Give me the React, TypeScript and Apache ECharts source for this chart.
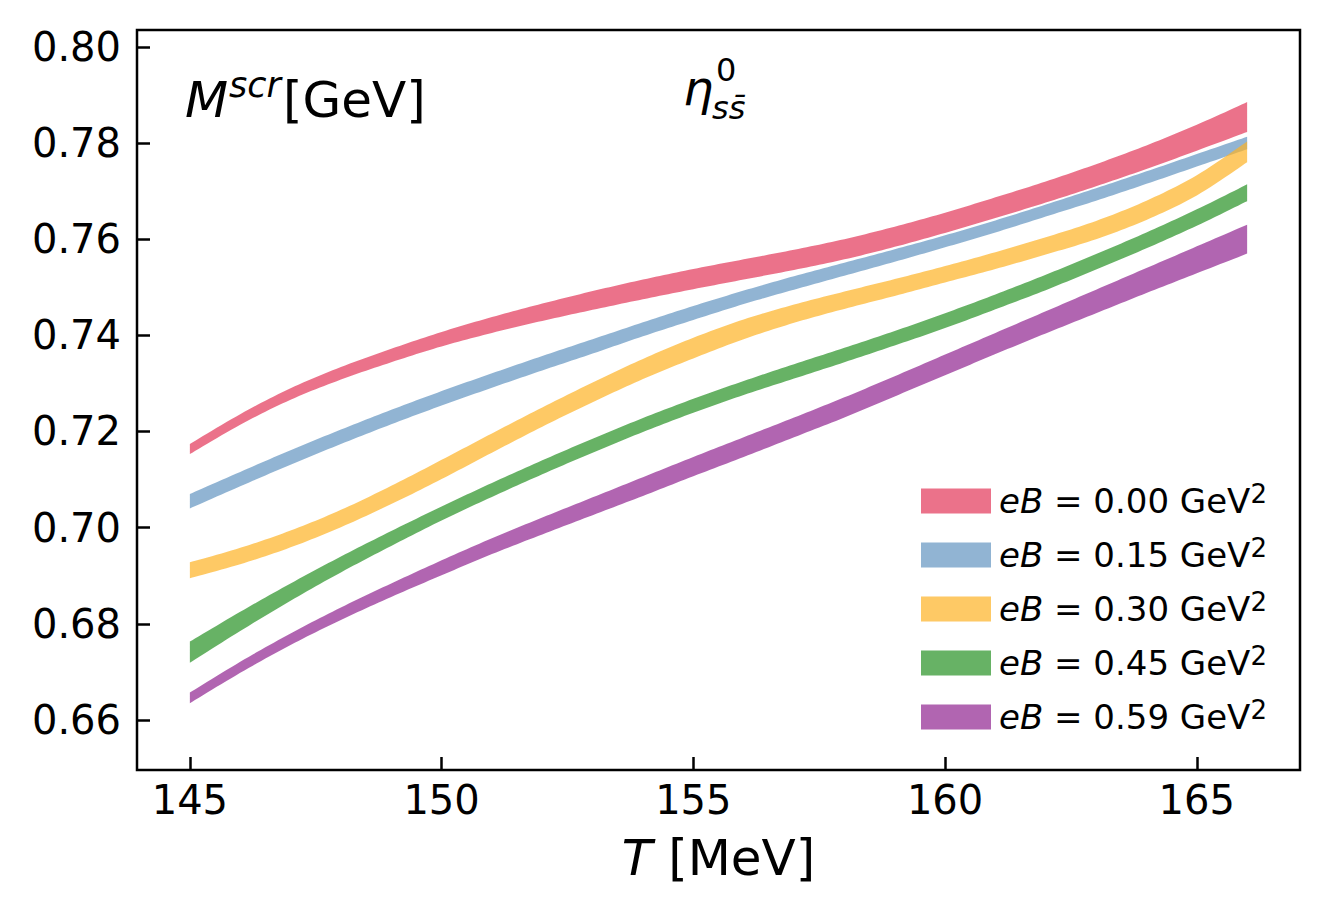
import React, { useEffect, useRef } from "react";
import * as echarts from "echarts";

// Temperature grid (MeV)
const T = [145, 146, 147, 148, 149, 150, 151, 152, 153, 154, 155, 156, 157, 158, 159, 160, 161, 162, 163, 164, 165, 166];

// eB = 0.00 GeV^2
const pinkLo = [0.7153, 0.7214, 0.7266, 0.7308, 0.7344, 0.7377, 0.7405, 0.7430, 0.7453, 0.7475, 0.7496, 0.7516, 0.7536, 0.7558, 0.7584, 0.7613, 0.7644, 0.7676, 0.7710, 0.7746, 0.7784, 0.7823];
const pinkHi = [0.7174, 0.7236, 0.7290, 0.7334, 0.7372, 0.7407, 0.7438, 0.7466, 0.7492, 0.7516, 0.7538, 0.7558, 0.7578, 0.7600, 0.7626, 0.7655, 0.7687, 0.7720, 0.7756, 0.7795, 0.7838, 0.7885];
// eB = 0.15 GeV^2
const blueLo = [0.7040, 0.7086, 0.7131, 0.7174, 0.7215, 0.7254, 0.7291, 0.7327, 0.7362, 0.7398, 0.7432, 0.7465, 0.7495, 0.7524, 0.7553, 0.7583, 0.7614, 0.7647, 0.7680, 0.7715, 0.7751, 0.7787];
const blueHi = [0.7070, 0.7116, 0.7161, 0.7204, 0.7245, 0.7284, 0.7321, 0.7357, 0.7392, 0.7427, 0.7461, 0.7493, 0.7523, 0.7551, 0.7579, 0.7608, 0.7639, 0.7672, 0.7706, 0.7741, 0.7777, 0.7813];
// eB = 0.30 GeV^2
const yellowLo = [0.6895, 0.6924, 0.6959, 0.7001, 0.7049, 0.7101, 0.7156, 0.7210, 0.7261, 0.7309, 0.7352, 0.7392, 0.7426, 0.7455, 0.7482, 0.7510, 0.7538, 0.7568, 0.7600, 0.7640, 0.7691, 0.7760];
const yellowHi = [0.6928, 0.6958, 0.6994, 0.7037, 0.7087, 0.7141, 0.7196, 0.7250, 0.7302, 0.7351, 0.7395, 0.7433, 0.7464, 0.7491, 0.7517, 0.7544, 0.7573, 0.7604, 0.7638, 0.7680, 0.7733, 0.7803];
// eB = 0.45 GeV^2
const greenLo = [0.6719, 0.6785, 0.6848, 0.6907, 0.6962, 0.7015, 0.7064, 0.7111, 0.7156, 0.7199, 0.7239, 0.7276, 0.7310, 0.7344, 0.7379, 0.7415, 0.7454, 0.7494, 0.7537, 0.7581, 0.7628, 0.7679];
const greenHi = [0.6763, 0.6825, 0.6884, 0.6940, 0.6993, 0.7044, 0.7093, 0.7140, 0.7185, 0.7228, 0.7268, 0.7305, 0.7340, 0.7374, 0.7409, 0.7446, 0.7485, 0.7526, 0.7569, 0.7614, 0.7662, 0.7714];
// eB = 0.59 GeV^2
const purpleLo = [0.6635, 0.6698, 0.6756, 0.6808, 0.6856, 0.6901, 0.6945, 0.6986, 0.7026, 0.7066, 0.7107, 0.7147, 0.7188, 0.7229, 0.7273, 0.7317, 0.7361, 0.7404, 0.7446, 0.7488, 0.7529, 0.7570];
const purpleHi = [0.6657, 0.6721, 0.6780, 0.6834, 0.6884, 0.6932, 0.6978, 0.7021, 0.7063, 0.7105, 0.7147, 0.7188, 0.7229, 0.7271, 0.7315, 0.7360, 0.7405, 0.7450, 0.7495, 0.7540, 0.7585, 0.7630];

const eBValues = ["0.00", "0.15", "0.30", "0.45", "0.59"];
const xTicks = [145, 150, 155, 160, 165];
const yTicks = [0.66, 0.68, 0.7, 0.72, 0.74, 0.76, 0.78, 0.8];

const bandColors = [
  "rgba(226,54,88,0.7)",
  "rgba(99,148,192,0.7)",
  "rgba(254,178,36,0.7)",
  "rgba(39,145,35,0.7)",
  "rgba(144,35,144,0.7)",
];

const FONT = "DejaVu Sans";

function spline(p: number[][], steps = 12): number[][] {
  const out: number[][] = [];
  for (let i = 0; i < p.length - 1; i++) {
    const p0 = p[i - 1] || p[i];
    const p1 = p[i];
    const p2 = p[i + 1];
    const p3 = p[i + 2] || p[i + 1];
    for (let s = 0; s < steps; s++) {
      const t = s / steps;
      const t2 = t * t;
      const t3 = t2 * t;
      const f = (k: number) =>
        0.5 *
        (2 * p1[k] +
          (-p0[k] + p2[k]) * t +
          (2 * p0[k] - 5 * p1[k] + 4 * p2[k] - p3[k]) * t2 +
          (-p0[k] + 3 * p1[k] - 3 * p2[k] + p3[k]) * t3);
      out.push([f(0), f(1)]);
    }
  }
  out.push(p[p.length - 1]);
  return out;
}

export default function App() {
  const ref = useRef<HTMLDivElement>(null);

  useEffect(() => {
    document.body.style.margin = "0";
    if (!ref.current) return;
    const chart = echarts.init(ref.current, null, { renderer: "svg" });

    const bands = [
      [pinkLo, pinkHi],
      [blueLo, blueHi],
      [yellowLo, yellowHi],
      [greenLo, greenHi],
      [purpleLo, purpleHi],
    ];
    const names = eBValues.map((v) => `eB = ${v} GeV²`);

    const series = bands.map(([lo, hi], bi) => ({
      type: "custom",
      name: names[bi],
      clip: false,
      silent: true,
      itemStyle: { color: bandColors[bi] },
      encode: { x: 0, y: [1, 2] },
      data: T.map((t, i) => [t, lo[i], hi[i]]),
      z: 2 + bi,
      renderItem: (params: any, api: any) => {
        if (params.dataIndexInside !== 0) return { type: "group", children: [] };
        const n = params.dataInsideLength;
        const top: number[][] = [];
        const bot: number[][] = [];
        for (let i = 0; i < n; i++) {
          const x = api.value(0, i);
          top.push(api.coord([x, api.value(2, i)]));
          bot.push(api.coord([x, api.value(1, i)]));
        }
        const pts = spline(top).concat(spline(bot).reverse());
        return {
          type: "polygon",
          shape: { points: pts },
          style: { fill: bandColors[bi], stroke: null },
        };
      },
    }));

    const option: any = {
      animation: false,
      backgroundColor: "#fff",
      textStyle: { fontFamily: FONT },
      grid: {
        left: 137,
        top: 30,
        width: 1163,
        height: 740,
        show: true,
        borderColor: "#000",
        borderWidth: 2.5,
        backgroundColor: "transparent",
        containLabel: false,
      },
      xAxis: {
        type: "value",
        min: 143.95,
        max: 167.05,
        splitLine: { show: false },
        axisLine: { show: false },
        axisTick: {
          show: true,
          inside: true,
          length: 13,
          lineStyle: { color: "#000", width: 2.5 },
          customValues: xTicks,
        },
        axisLabel: {
          show: true,
          customValues: xTicks,
          fontSize: 40,
          color: "#000",
          fontFamily: FONT,
          margin: 10,
          formatter: (v: number) => String(v),
        },
        name: "{i|T} [MeV]",
        nameLocation: "middle",
        nameGap: 63,
        nameTextStyle: {
          fontSize: 50,
          color: "#000",
          fontFamily: FONT,
          rich: { i: { fontStyle: "italic", fontSize: 50, fontFamily: FONT, color: "#000" } },
        },
      },
      yAxis: {
        type: "value",
        min: 0.6496,
        max: 0.8035,
        splitLine: { show: false },
        axisLine: { show: false },
        axisTick: {
          show: true,
          inside: true,
          length: 13,
          lineStyle: { color: "#000", width: 2.5 },
          customValues: yTicks,
        },
        axisLabel: {
          show: true,
          customValues: yTicks,
          fontSize: 40,
          color: "#000",
          fontFamily: FONT,
          margin: 16,
          formatter: (v: number) => v.toFixed(2),
        },
      },
      legend: {
        data: names.map((nm, i) => ({ name: nm, icon: "rect", itemStyle: { color: bandColors[i] } })),
        orient: "vertical",
        left: 921,
        top: 481,
        padding: 0,
        itemWidth: 70,
        itemHeight: 25,
        itemGap: 14,
        selectedMode: false,
        formatter: (name: string) => `{i|eB}{n|${name.slice(2, name.length - 1)}}{sup|2}`,
        textStyle: {
          fontFamily: FONT,
          fontSize: 34,
          color: "#000",
          lineHeight: 40,
          padding: [0, 0, 0, 3],
          rich: {
            i: { fontStyle: "italic", fontSize: 34, fontFamily: FONT, color: "#000", lineHeight: 40 },
            n: { fontSize: 34, fontFamily: FONT, color: "#000", lineHeight: 40 },
            sup: { fontSize: 26, fontFamily: FONT, color: "#000", lineHeight: 18, verticalAlign: "top" },
          },
        },
      },
      graphic: [
        {
          type: "text",
          x: 185,
          y: 100,
          style: { text: "M", font: `italic 50px "${FONT}"`, fill: "#000", textVerticalAlign: "middle", verticalAlign: "middle" },
        },
        {
          type: "text",
          x: 229,
          y: 85,
          style: { text: "scr", font: `italic 35px "${FONT}"`, fill: "#000", textVerticalAlign: "middle", verticalAlign: "middle" },
        },
        {
          type: "text",
          x: 283,
          y: 100,
          style: { text: "[GeV]", font: `50px "${FONT}"`, fill: "#000", textVerticalAlign: "middle", verticalAlign: "middle" },
        },
        {
          type: "text",
          x: 683,
          y: 88,
          style: { text: "η", font: `italic 48px "${FONT}"`, fill: "#000", textVerticalAlign: "middle", verticalAlign: "middle" },
        },
        {
          type: "text",
          x: 716,
          y: 70,
          style: { text: "0", font: `32px "${FONT}"`, fill: "#000", textVerticalAlign: "middle", verticalAlign: "middle" },
        },
        {
          type: "text",
          x: 712,
          y: 108,
          style: { text: "ss\u0304", font: `italic 32px "${FONT}"`, fill: "#000", textVerticalAlign: "middle", verticalAlign: "middle" },
        },
      ],
      series,
    };

    chart.setOption(option);
    return () => chart.dispose();
  }, []);

  return <div ref={ref} style={{ width: 1329, height: 919 }} />;
}
